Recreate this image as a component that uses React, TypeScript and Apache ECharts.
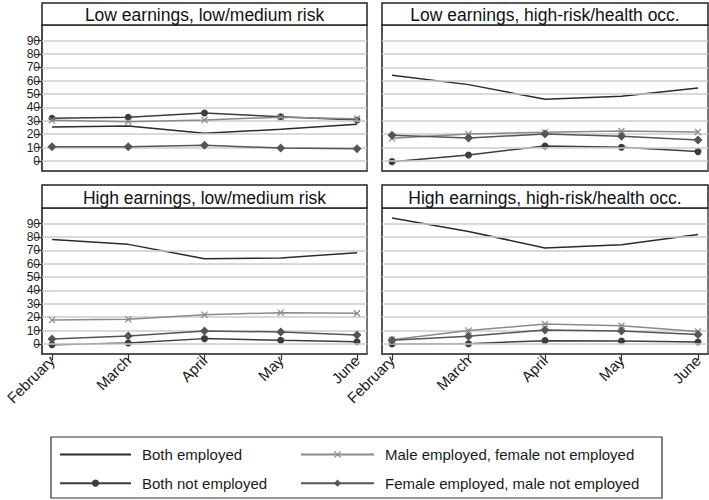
import React, { useEffect, useRef } from "react";
import * as echarts from "echarts";

const months = ["February", "March", "April", "May", "June"];
const yTicks = [0, 10, 20, 30, 40, 50, 60, 70, 80, 90];
const panelTitles = [
  "Low earnings, low/medium risk",
  "Low earnings, high-risk/health occ.",
  "High earnings, low/medium risk",
  "High earnings, high-risk/health occ.",
];
const seriesNames = [
  "Both employed",
  "Both not employed",
  "Male employed, female not employed",
  "Female employed, male not employed",
];

// Panel 1: Low earnings, low/medium risk
const p1BothEmp = [25.4, 26.2, 20.7, 23.7, 27.4];
const p1BothNot = [32.0, 32.7, 35.9, 33.1, 30.7];
const p1Male = [30.4, 29.4, 30.7, 32.7, 31.5];
const p1Female = [10.7, 10.7, 11.7, 9.7, 9.2];
// Panel 2: Low earnings, high-risk/health occ.
const p2BothEmp = [64.1, 57.1, 46.1, 48.4, 54.6];
const p2BothNot = [-0.5, 4.5, 11.2, 10.2, 7.0];
const p2Male = [17.0, 20.2, 21.5, 22.4, 21.7];
const p2Female = [19.2, 17.2, 20.2, 18.5, 15.7];
// Panel 3: High earnings, low/medium risk
const p3BothEmp = [78.2, 74.5, 63.8, 64.3, 68.3];
const p3BothNot = [-0.5, 0.7, 4.0, 2.7, 1.7];
const p3Male = [17.9, 18.4, 21.9, 23.4, 22.9];
const p3Female = [3.7, 6.0, 9.7, 9.0, 6.7];
// Panel 4: High earnings, high-risk/health occ.
const p4BothEmp = [94.2, 84.2, 71.8, 74.3, 81.8];
const p4BothNot = [0.0, 0.2, 2.5, 2.2, 1.5];
const p4Male = [3.2, 10.0, 15.0, 13.7, 9.4];
const p4Female = [2.7, 5.7, 10.5, 9.7, 7.0];

const panels = [
  [p1BothEmp, p1BothNot, p1Male, p1Female],
  [p2BothEmp, p2BothNot, p2Male, p2Female],
  [p3BothEmp, p3BothNot, p3Male, p3Female],
  [p4BothEmp, p4BothNot, p4Male, p4Female],
];

const FONT = "Liberation Sans, Arial, Helvetica, sans-serif";
const X_SYMBOL =
  "path://M0,1.2L1.2,0L5,3.8L8.8,0L10,1.2L6.2,5L10,8.8L8.8,10L5,6.2L1.2,10L0,8.8L3.8,5Z";

const styles = [
  { color: "#2b2b2b", symbol: "none", symbolSize: 0 },
  { color: "#3c3c3c", symbol: "circle", symbolSize: 7 },
  { color: "#8a8a8a", symbol: X_SYMBOL, symbolSize: 7 },
  { color: "#555555", symbol: "diamond", symbolSize: 9 },
];

const gridBoxes = [
  { left: 42, top: 25, width: 325, height: 146 },
  { left: 382, top: 25, width: 326, height: 146 },
  { left: 42, top: 208, width: 325, height: 146 },
  { left: 382, top: 208, width: 326, height: 146 },
];
const titleBoxes = [
  { x: 42, y: 3, w: 325, h: 22 },
  { x: 382, y: 3, w: 326, h: 22 },
  { x: 42, y: 185, w: 325, h: 23 },
  { x: 382, y: 185, w: 326, h: 23 },
];

export default function App() {
  const ref = useRef<HTMLDivElement>(null);
  useEffect(() => {
    if (!ref.current) return;
    const chart = echarts.init(ref.current, undefined, { renderer: "svg" });
    const xIdx = [0, 1, 2, 3, 4];
    const evenTicks = yTicks.filter((_, k) => k % 2 === 0);
    const oddTicks = yTicks.filter((_, k) => k % 2 === 1);

    const grid = gridBoxes.map((g) => ({
      ...g,
      show: true,
      borderColor: "#4a4a4a",
      borderWidth: 1.5,
      backgroundColor: "#fff",
      containLabel: false,
    }));

    const xAxis = gridBoxes.map((_, i) => {
      const bottom = i >= 2;
      return {
        type: "value",
        gridIndex: i,
        position: "bottom",
        min: -0.131,
        max: 4.131,
        splitLine: { show: false },
        axisLine: {
          show: true,
          onZero: false,
          lineStyle: { color: "#4a4a4a", width: 1.5 },
        },
        axisTick: {
          show: bottom,
          customValues: xIdx,
          length: 6,
          lineStyle: { color: "#333", width: 1.2 },
        },
        axisLabel: {
          show: bottom,
          customValues: xIdx,
          rotate: 45,
          margin: 4,
          fontSize: 15,
          fontFamily: FONT,
          color: "#1a1a1a",
          hideOverlap: false,
          formatter: (v: number) => months[Math.round(v)] ?? "",
        },
      };
    });

    const makeY = (gi: number, ticks: number[] | null) => ({
      type: "value",
      gridIndex: gi,
      position: "left",
      offset: 0,
      min: -7.5,
      max: 101.7,
      splitLine: { show: false },
      axisLine: {
        show: true,
        onZero: false,
        lineStyle: { color: "#4a4a4a", width: 1.5 },
      },
      axisTick: {
        show: !!ticks,
        customValues: ticks || yTicks,
        length: 7,
        lineStyle: { color: "#333", width: 1.2 },
      },
      axisLabel: {
        show: !!ticks,
        customValues: ticks || yTicks,
        margin: 2,
        fontSize: 12,
        lineHeight: 12,
        fontFamily: FONT,
        color: "#1a1a1a",
        showMinLabel: true,
        showMaxLabel: true,
        hideOverlap: false,
      },
    });

    const yAxis = [
      makeY(0, evenTicks),
      makeY(1, null),
      makeY(2, evenTicks),
      makeY(3, null),
      makeY(0, oddTicks),
      makeY(2, oddTicks),
    ];

    const series: any[] = [];
    panels.forEach((panel, pi) => {
      series.push({
        type: "line",
        name: "__grid" + pi,
        xAxisIndex: pi,
        yAxisIndex: pi,
        data: [],
        z: 1,
        silent: true,
        markLine: {
          silent: true,
          symbol: ["none", "none"],
          label: { show: false },
          lineStyle: { color: "#cccccc", width: 1.5, type: "solid" },
          data: yTicks.map((v) => ({ yAxis: v })),
        },
      });
      panel.forEach((vals, si) => {
        const st = styles[si];
        series.push({
          type: "line",
          name: seriesNames[si],
          xAxisIndex: pi,
          yAxisIndex: pi,
          z: 3 + si,
          data: vals.map((v, k) => [k, v]),
          symbol: st.symbol,
          symbolSize: st.symbolSize,
          showSymbol: st.symbol !== "none",
          lineStyle: { color: st.color, width: 1.5 },
          itemStyle: { color: st.color },
        });
      });
    });

    const graphic: any[] = [];
    titleBoxes.forEach((b, i) => {
      graphic.push({
        type: "rect",
        shape: { x: b.x, y: b.y, width: b.w, height: b.h },
        style: { fill: "#fff", stroke: "#222", lineWidth: 1.5 },
        z: 10,
      });
      graphic.push({
        type: "text",
        x: b.x + b.w / 2,
        y: b.y + b.h / 2 + 1,
        style: {
          text: panelTitles[i],
          fill: "#111",
          fontSize: 17.5,
          fontFamily: FONT,
          align: "center",
          verticalAlign: "middle",
        },
        z: 11,
      });
    });
    graphic.push({
      type: "rect",
      shape: { x: 51, y: 437, width: 611, height: 61 },
      style: { fill: "none", stroke: "#333", lineWidth: 1.2 },
      z: 10,
    });

    const legendCommon = {
      orient: "vertical",
      itemHeight: 9,
      itemGap: 13.7,
      textStyle: {
        fontSize: 15,
        fontFamily: FONT,
        color: "#1a1a1a",
        padding: [0, 0, 0, 6],
      },
      selectedMode: false,
    };

    chart.setOption({
      animation: false,
      backgroundColor: "#fff",
      grid,
      xAxis,
      yAxis,
      series,
      graphic,
      legend: [
        {
          ...legendCommon,
          left: 54,
          top: 442,
          itemWidth: 71,
          data: [
            { name: seriesNames[0], itemStyle: { opacity: 0 } },
            { name: seriesNames[1] },
          ],
        },
        {
          ...legendCommon,
          left: 295,
          top: 442,
          itemWidth: 73,
          data: [{ name: seriesNames[2] }, { name: seriesNames[3] }],
        },
      ],
    });
    return () => chart.dispose();
  }, []);
  return (
    <div
      ref={ref}
      style={{ position: "fixed", left: 0, top: 0, width: 709, height: 500 }}
    />
  );
}
